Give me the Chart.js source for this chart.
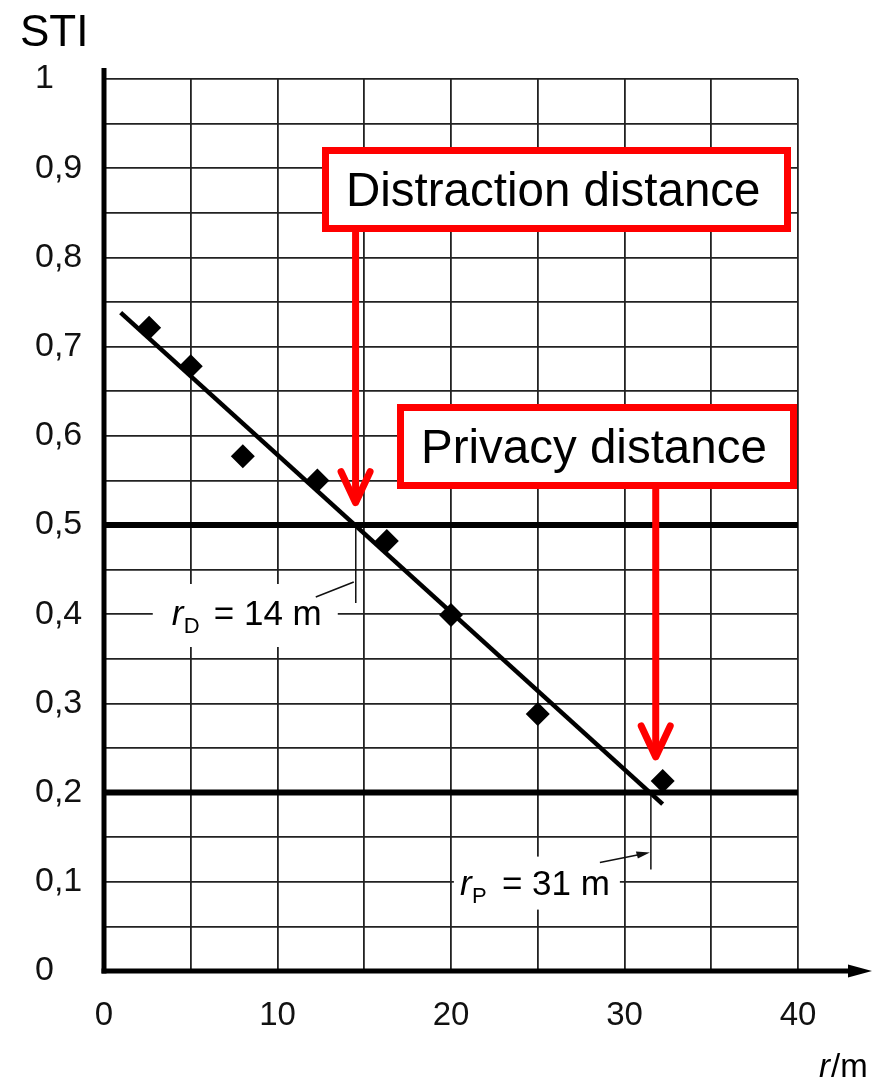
<!DOCTYPE html>
<html>
<head>
<meta charset="utf-8">
<script src="https://cdn.jsdelivr.net/npm/chart.js@4/dist/chart.umd.min.js"></script>
<style>
  html, body { margin: 0; padding: 0; background: #fff; }
  canvas { display: block; }
</style>
</head>
<body>
<canvas id="sti" width="884" height="1082"></canvas>
<script>
// Measured STI against distance r (m)
const distance = [2.6, 5.0, 8.0, 12.3, 16.3, 20.0, 25.0, 32.2];
const stiMeasured = [0.721, 0.678, 0.577, 0.550, 0.482, 0.399, 0.288, 0.213];

// Straight-line fit through the measurements (end points)
const fitDistance = [0.96, 32.2];
const fitSTI = [0.738, 0.187];

// Limits: distraction (0.5) and privacy (0.2)
const thresholdSTI = [0.5, 0.2];

const xRange = [0, 40];
const yRange = [0, 1];
const xTickLabels = ['0', '10', '20', '30', '40'];
const yTickLabels = ['0', '0,1', '0,2', '0,3', '0,4', '0,5', '0,6', '0,7', '0,8', '0,9', '1'];

// Distance where the fit line reaches a given STI
function fitDistanceAt(stiValue) {
  const slope = (fitSTI[1] - fitSTI[0]) / (fitDistance[1] - fitDistance[0]);
  return fitDistance[0] + (stiValue - fitSTI[0]) / slope;
}
const rDistraction = fitDistanceAt(thresholdSTI[0]);
const rPrivacy = fitDistanceAt(thresholdSTI[1]);

const FONT = '"Liberation Sans", Arial, Helvetica, sans-serif';
const RED = '#ff0000';

function redArrow(ctx, px, topPx, tipPx) {
  ctx.save();
  ctx.strokeStyle = RED;
  ctx.lineWidth = 7;
  ctx.lineCap = 'round';
  ctx.lineJoin = 'round';
  ctx.beginPath();
  ctx.moveTo(px, topPx);
  ctx.lineTo(px, tipPx - 4);
  ctx.stroke();
  ctx.beginPath();
  ctx.moveTo(px - 14.5, tipPx - 31);
  ctx.lineTo(px, tipPx);
  ctx.lineTo(px + 14.5, tipPx - 31);
  ctx.stroke();
  ctx.restore();
}

function redBox(ctx, left, top, right, bottom, text, textX, baseline) {
  ctx.save();
  ctx.fillStyle = '#fff';
  ctx.fillRect(left, top, right - left, bottom - top);
  ctx.strokeStyle = RED;
  ctx.lineWidth = 7;
  ctx.strokeRect(left + 3.5, top + 3.5, right - left - 7, bottom - top - 7);
  ctx.fillStyle = '#000';
  ctx.font = '47.5px ' + FONT;
  ctx.textBaseline = 'alphabetic';
  ctx.textAlign = 'left';
  ctx.fillText(text, textX, baseline);
  ctx.restore();
}

function distanceLabel(ctx, x0, baseline, sub, value) {
  ctx.save();
  ctx.fillStyle = '#000';
  ctx.textBaseline = 'alphabetic';
  ctx.textAlign = 'left';
  ctx.font = 'italic 35px ' + FONT;
  ctx.fillText('r', x0, baseline);
  ctx.font = '22px ' + FONT;
  ctx.fillText(sub, x0 + 12, baseline + 8);
  ctx.font = '35px ' + FONT;
  ctx.fillText('= ' + value + ' m', x0 + 42, baseline);
  ctx.restore();
}

const decorations = {
  id: 'decorations',
  afterDraw(chart) {
    const { ctx, chartArea: a, scales: { x, y } } = chart;
    ctx.save();

    // Axes
    ctx.strokeStyle = '#000';
    ctx.fillStyle = '#000';
    ctx.lineWidth = 5;
    ctx.beginPath();
    ctx.moveTo(a.left, a.top - 11);
    ctx.lineTo(a.left, a.bottom + 2.5);
    ctx.stroke();
    ctx.beginPath();
    ctx.moveTo(a.left - 2.5, a.bottom);
    ctx.lineTo(a.right + 55, a.bottom);
    ctx.stroke();
    ctx.beginPath();
    ctx.moveTo(a.right + 74, a.bottom);
    ctx.lineTo(a.right + 50, a.bottom - 6.5);
    ctx.lineTo(a.right + 50, a.bottom + 6.5);
    ctx.closePath();
    ctx.fill();

    // Axis titles
    ctx.textAlign = 'left';
    ctx.textBaseline = 'alphabetic';
    ctx.font = '44px ' + FONT;
    ctx.fillText('STI', 20, 46);
    ctx.font = 'italic 33px ' + FONT;
    ctx.fillText('r', 819, 1077);
    ctx.font = '33px ' + FONT;
    ctx.fillText('/m', 831, 1077);

    // r_D marker
    const dX = x.getPixelForValue(rDistraction);
    const dY = y.getPixelForValue(thresholdSTI[0]);
    ctx.fillStyle = '#fff';
    ctx.fillRect(dX - 202, dY + 59, 185, 63);
    ctx.strokeStyle = '#111';
    ctx.lineWidth = 1.5;
    ctx.beginPath();
    ctx.moveTo(dX + 1, dY + 3);
    ctx.lineTo(dX + 1, dY + 78);
    ctx.moveTo(dX - 39, dY + 72);
    ctx.lineTo(dX - 1, dY + 57);
    ctx.stroke();
    distanceLabel(ctx, dX - 183, dY + 100, 'D', Math.round(rDistraction));

    // r_P marker
    const pX = x.getPixelForValue(rPrivacy);
    const pY = y.getPixelForValue(thresholdSTI[1]);
    ctx.fillStyle = '#fff';
    ctx.fillRect(pX - 196, pY + 64, 166, 53);
    ctx.strokeStyle = '#111';
    ctx.lineWidth = 1.5;
    ctx.beginPath();
    ctx.moveTo(pX + 1, pY + 3);
    ctx.lineTo(pX + 1, pY + 77);
    ctx.moveTo(pX - 50, pY + 70);
    ctx.lineTo(pX - 10, pY + 62);
    ctx.stroke();
    ctx.fillStyle = '#111';
    ctx.beginPath();
    ctx.moveTo(pX, pY + 60);
    ctx.lineTo(pX - 14, pY + 59);
    ctx.lineTo(pX - 12, pY + 66);
    ctx.closePath();
    ctx.fill();
    distanceLabel(ctx, pX - 190, pY + 102, 'P', Math.round(rPrivacy));

    // Red call-outs
    redArrow(ctx, x.getPixelForValue(14.5), 228, y.getPixelForValue(0.525));
    redArrow(ctx, x.getPixelForValue(31.8), 486, y.getPixelForValue(0.24));
    redBox(ctx, 322, 147, 791, 232, 'Distraction distance', 346, 206);
    redBox(ctx, 397, 404, 797, 489, 'Privacy distance', 421, 463);

    ctx.restore();
  }
};

const points = distance.map((r, i) => ({ x: r, y: stiMeasured[i] }));
const fitLine = fitDistance.map((r, i) => ({ x: r, y: fitSTI[i] }));
const limitLine = (v) => xRange.map((r) => ({ x: r, y: v }));

new Chart(document.getElementById('sti'), {
  type: 'scatter',
  data: {
    datasets: [
      {
        label: 'STI',
        data: points,
        pointStyle: 'rectRot',
        pointRadius: 12,
        pointBackgroundColor: '#000',
        pointBorderWidth: 0,
        order: 0
      },
      {
        label: 'Fit',
        data: fitLine,
        showLine: true,
        borderColor: '#000',
        borderWidth: 4.5,
        pointRadius: 0,
        order: 1
      },
      {
        label: 'Distraction limit',
        data: limitLine(thresholdSTI[0]),
        showLine: true,
        borderColor: '#000',
        borderWidth: 6,
        pointRadius: 0,
        order: 2
      },
      {
        label: 'Privacy limit',
        data: limitLine(thresholdSTI[1]),
        showLine: true,
        borderColor: '#000',
        borderWidth: 6,
        pointRadius: 0,
        order: 2
      }
    ]
  },
  options: {
    responsive: false,
    animation: false,
    events: [],
    layout: { padding: { left: 35, top: 79, right: 86, bottom: 0 } },
    plugins: { legend: { display: false }, tooltip: { enabled: false } },
    scales: {
      x: {
        type: 'linear',
        min: xRange[0],
        max: xRange[1],
        afterFit: (s) => { s.height = 111; },
        border: { display: false },
        grid: { color: '#222', lineWidth: 1.8, drawTicks: false },
        ticks: {
          stepSize: 5,
          autoSkip: false,
          maxRotation: 0,
          padding: 25,
          color: '#111',
          font: { family: FONT, size: 33 },
          callback: (v) => (v % 10 === 0 ? xTickLabels[v / 10] : '')
        }
      },
      y: {
        type: 'linear',
        min: yRange[0],
        max: yRange[1],
        afterFit: (s) => { s.width = 69; },
        border: { display: false },
        grid: { color: '#222', lineWidth: 1.8, drawTicks: false },
        ticks: {
          stepSize: 0.05,
          autoSkip: false,
          crossAlign: 'far',
          color: '#111',
          font: { family: FONT, size: 34 },
          callback: (v) => {
            const k = Math.round(v * 100);
            return k % 10 === 0 ? yTickLabels[k / 10] : '';
          }
        }
      }
    }
  },
  plugins: [decorations]
});
</script>
</body>
</html>
